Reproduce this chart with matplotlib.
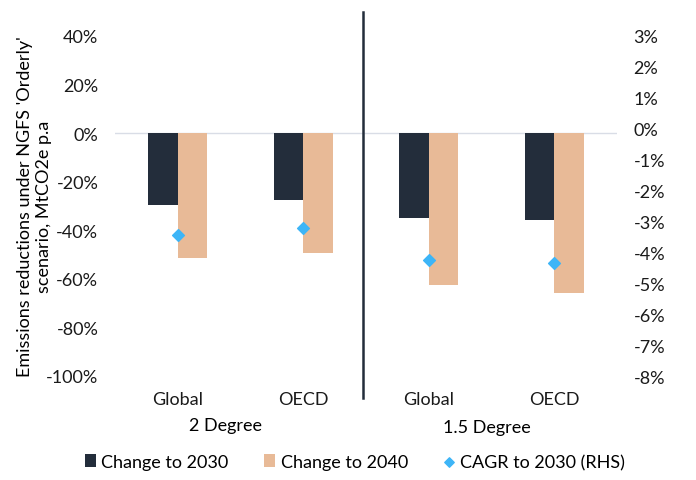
import matplotlib.pyplot as plt
import numpy as np

# data
categories = ['Global', 'OECD', 'Global', 'OECD']
groups = ['2 Degree', '1.5 Degree']
change_2030 = [-29.6, -27.6, -35.0, -35.8]
change_2040 = [-51.4, -49.4, -62.5, -65.8]
cagr_2030 = [-3.45, -3.2, -4.25, -4.35]
left_ticks = [40, 20, 0, -20, -40, -60, -80, -100]
right_ticks = [3, 2, 1, 0, -1, -2, -3, -4, -5, -6, -7, -8]

dark = '#232d3b'
tan = '#e8ba97'
blue = '#3db5f7'

plt.rcParams['font.family'] = ['Lato', 'DejaVu Sans']
plt.rcParams['font.size'] = 13

fig = plt.figure(figsize=(6.96, 4.81), dpi=100)
W, H = 696, 481
ax = fig.add_axes([115 / W, 1 - 377 / H, (617 - 115) / W, (377 - 37) / H])
ax2 = ax.twinx()

x = np.arange(len(categories))
w = 0.237
ax.bar(x - w / 2, change_2030, w, color=dark, label='Change to 2030', zorder=3)
ax.bar(x + w / 2, change_2040, w, color=tan, label='Change to 2040', zorder=3)
ax2.scatter(x, cagr_2030, marker='D', s=36, color=blue, label='CAGR to 2030 (RHS)', zorder=4)

ax.set_xlim(-0.5, 3.5)
ax.set_ylim(-100, 40)
ax2.set_ylim(-8, 3)
ax.set_yticks(left_ticks)
ax.set_yticklabels([f'{t}%' for t in left_ticks])
ax2.set_yticks(right_ticks)
ax2.set_yticklabels([f'{t}%' for t in right_ticks])
ax.axhline(0, color='#d9dde6', lw=1, zorder=2)

ax.set_xticks(x)
ax.set_xticklabels(categories)
for a in (ax, ax2):
    for s in a.spines.values():
        s.set_visible(False)
    a.tick_params(length=0, colors='#1a1a1a')
ax.tick_params(axis='y', pad=12)
ax2.tick_params(axis='y', pad=12)
ax.tick_params(axis='x', pad=11)

# group labels
ax.text(0.384, -120, groups[0], ha='center', va='center', transform=ax.transData)
ax.text(2.46, -121, groups[1], ha='center', va='center', transform=ax.transData)

# divider between the two scenarios
fig.add_artist(plt.Line2D([363 / W, 363 / W], [1 - 13 / H, 1 - 399 / H], color=dark, lw=1.8))

ax.set_ylabel("Emissions reductions under NGFS 'Orderly'\nscenario, MtCO2e p.a", labelpad=-4)

h1, l1 = ax.get_legend_handles_labels()
h2, l2 = ax2.get_legend_handles_labels()
fig.legend(h1 + h2, l1 + l2, loc='center', bbox_to_anchor=(355 / W, 1 - 463 / H), ncol=3,
           frameon=False, handlelength=0.6, handletextpad=0.3, columnspacing=2.0, markerscale=0.8)

fig.savefig('out.png', dpi=100)
